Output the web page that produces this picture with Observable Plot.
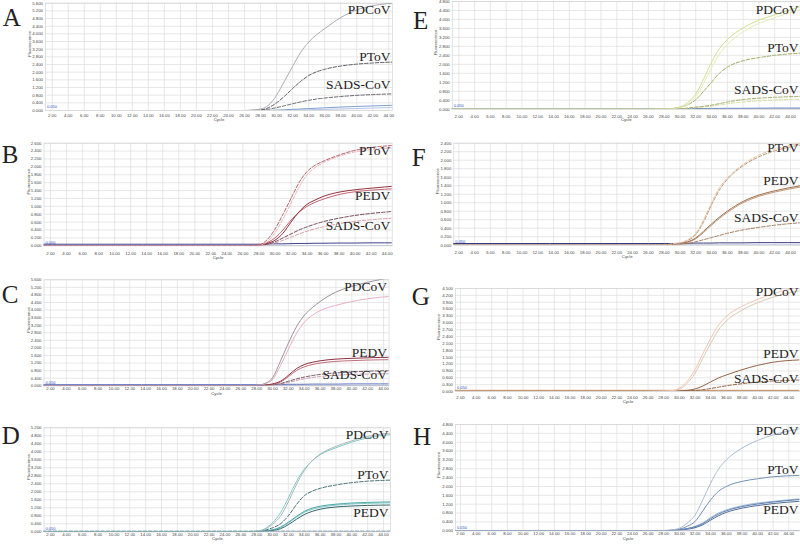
<!DOCTYPE html>
<html><head><meta charset="utf-8">
<script src="https://cdn.jsdelivr.net/npm/d3@7"></script>
<script src="https://cdn.jsdelivr.net/npm/@observablehq/plot@0.6"></script>
<style>
html,body{margin:0;padding:0;background:#fff;}
#fig{position:relative;width:800px;height:544px;overflow:hidden;background:#fff;}
.panel{position:absolute;}
</style></head>
<body><div id="fig"></div>
<script>
// ---------- data ----------
const cycles = [1, 26, 28, 29, 30, 31, 32, 33, 34, 35, 36, 38, 40, 42, 45.3];
const xTicks = [2,4,6,8,10,12,14,16,18,20,22,24,26,28,30,32,34,36,38,40,42,44];
const yTicks_A = [0,0.4,0.8,1.2,1.6,2.0,2.4,2.8,3.2,3.6,4.0,4.4,4.8,5.2,5.6];
const yTicks_B = [0,0.2,0.4,0.6,0.8,1.0,1.2,1.4,1.6,1.8,2.0,2.2,2.4,2.6];
const yTicks_C = [0,0.4,0.8,1.2,1.6,2.0,2.4,2.8,3.2,3.6,4.0,4.4,4.8,5.2,5.6];
const yTicks_D = [0,0.4,0.8,1.2,1.6,2.0,2.4,2.8,3.2,3.6,4.0,4.4,4.8,5.2];
const yTicks_E = [0,0.4,0.8,1.2,1.6,2.0,2.4,2.8,3.2,3.6,4.0,4.4,4.8];
const yTicks_F = [0,0.2,0.4,0.6,0.8,1.0,1.2,1.4,1.6,1.8,2.0,2.2,2.4];
const yTicks_G = [0,0.3,0.6,0.9,1.2,1.5,1.8,2.1,2.4,2.7,3.0,3.3,3.6,3.9,4.2,4.5];
const yTicks_H = [0,0.4,0.8,1.2,1.6,2.0,2.4,2.8,3.2,3.6,4.0,4.4,4.8];

const zeros = [0,0,0,0,0,0,0,0,0,0,0,0,0,0,0];

const A_PDCoV = [0,0,0.08,0.28,0.8,1.55,2.3,3.03,3.57,3.96,4.27,4.85,5.25,5.47,5.62];
const A_PToV  = [0,0,0.03,0.15,0.4,0.75,1.15,1.52,1.82,2.02,2.15,2.32,2.42,2.48,2.54];
const A_SADS  = [0,0,0.02,0.07,0.15,0.25,0.35,0.45,0.53,0.6,0.65,0.73,0.79,0.83,0.88];
const A_blue1 = [0,0,0,0.01,0.02,0.04,0.06,0.08,0.1,0.12,0.14,0.18,0.21,0.24,0.28];
const A_blue2 = [0,0,0,0,0,0.01,0.02,0.03,0.04,0.05,0.06,0.08,0.1,0.13,0.16];

const B_PToV1 = [0,0,0.02,0.15,0.42,0.8,1.2,1.6,1.88,2.04,2.14,2.3,2.42,2.49,2.55];
const B_PToV2 = [0,0,0.01,0.1,0.33,0.68,1.08,1.48,1.8,1.98,2.1,2.27,2.38,2.44,2.48];
const B_PEDV1 = [0,0,0.01,0.06,0.14,0.32,0.6,0.86,1.05,1.16,1.25,1.36,1.42,1.46,1.52];
const B_PEDV2 = [0,0,0.02,0.08,0.2,0.4,0.65,0.85,1.0,1.1,1.18,1.3,1.37,1.41,1.45];
const B_SADS1 = [0,0,0.01,0.04,0.1,0.2,0.3,0.4,0.48,0.55,0.61,0.7,0.77,0.82,0.88];
const B_SADS2 = [0,0,0.01,0.03,0.07,0.14,0.22,0.3,0.37,0.43,0.48,0.56,0.62,0.66,0.71];
const B_navy  = [0.04,0.04,0.04,0.045,0.05,0.05,0.055,0.06,0.06,0.065,0.065,0.07,0.07,0.075,0.075];

const C_PDCoV1 = [0,0,0.02,0.12,0.42,1.3,2.25,3.1,3.72,4.12,4.45,4.95,5.25,5.47,5.75];
const C_PDCoV2 = [0,0,0.02,0.1,0.33,1.06,1.93,2.75,3.35,3.72,3.97,4.25,4.45,4.6,4.74];
const C_PEDV1  = [0,0,0.01,0.03,0.1,0.24,0.55,0.9,1.12,1.24,1.32,1.41,1.45,1.48,1.51];
const C_PEDV2  = [0,0,0.01,0.03,0.08,0.2,0.48,0.8,1.0,1.12,1.2,1.29,1.33,1.36,1.38];
const C_SADS1  = [0,0,0.01,0.02,0.05,0.12,0.24,0.36,0.46,0.54,0.6,0.68,0.73,0.77,0.8];
const C_SADS2  = [0,0,0,0.02,0.04,0.09,0.18,0.28,0.37,0.44,0.49,0.56,0.6,0.62,0.64];
const C_blue   = [0.06,0.06,0.06,0.06,0.07,0.07,0.08,0.08,0.08,0.09,0.09,0.09,0.1,0.1,0.1];

const D_PDCoV1 = [0,0,0.02,0.12,0.37,0.78,1.5,2.35,3.05,3.55,3.88,4.27,4.55,4.77,4.95];
const D_PDCoV2 = [0,0,0.03,0.15,0.45,0.95,1.7,2.5,3.12,3.55,3.85,4.2,4.48,4.7,4.88];
const D_PToV   = [0,0,0.02,0.08,0.2,0.4,0.8,1.35,1.8,2.03,2.17,2.34,2.46,2.53,2.59];
const D_PEDV1  = [0,0,0.01,0.04,0.1,0.23,0.48,0.76,1.02,1.18,1.28,1.38,1.44,1.47,1.5];
const D_PEDV2  = [0,0,0.01,0.03,0.07,0.15,0.36,0.62,0.86,1.02,1.13,1.24,1.29,1.32,1.34];
const D_PEDV3  = [0,0,0.01,0.04,0.09,0.2,0.44,0.72,0.97,1.12,1.22,1.33,1.39,1.42,1.45];
const D_dash   = [0.03,0.03,0.03,0.03,0.03,0.03,0.03,0.03,0.03,0.03,0.03,0.03,0.03,0.03,0.03];

const E_PDCoV1 = [0,0,0.01,0.03,0.1,0.3,0.68,1.35,2.1,2.7,3.1,3.62,3.97,4.2,4.58];
const E_PDCoV2 = [0,0,0.01,0.02,0.07,0.22,0.55,1.15,1.85,2.45,2.88,3.45,3.82,4.08,4.45];
const E_PToV   = [0,0,0.01,0.03,0.08,0.2,0.42,0.8,1.2,1.6,1.87,2.16,2.3,2.4,2.5];
const E_SADS1  = [0,0,0,0.01,0.02,0.05,0.09,0.13,0.18,0.25,0.32,0.43,0.49,0.53,0.57];
const E_SADS2  = [0,0,0,0.01,0.02,0.04,0.07,0.1,0.14,0.19,0.24,0.32,0.37,0.41,0.45];
const E_blue   = [0.02,0.02,0.02,0.02,0.025,0.025,0.03,0.03,0.035,0.035,0.04,0.04,0.045,0.05,0.05];

const F_PToV1 = [0,0,0.01,0.03,0.06,0.13,0.28,0.6,1.0,1.35,1.58,1.9,2.12,2.26,2.4];
const F_PToV2 = [0,0,0.01,0.02,0.05,0.11,0.25,0.55,0.95,1.3,1.55,1.87,2.08,2.22,2.36];
const F_PEDV1 = [0,0,0.01,0.02,0.04,0.08,0.17,0.33,0.5,0.66,0.8,1.03,1.18,1.28,1.4];
const F_PEDV2 = [0,0,0.01,0.02,0.04,0.07,0.15,0.3,0.47,0.63,0.77,1.0,1.15,1.25,1.37];
const F_SADS  = [0,0,0,0.01,0.02,0.04,0.08,0.13,0.18,0.23,0.28,0.36,0.42,0.47,0.53];
const F_navy  = [0.04,0.04,0.04,0.04,0.045,0.045,0.05,0.05,0.05,0.055,0.055,0.055,0.06,0.06,0.06];

const G_PDCoV1 = [0,0,0.01,0.04,0.15,0.45,0.95,1.65,2.32,2.9,3.28,3.72,4.02,4.27,4.55];
const G_PDCoV2 = [0,0,0.01,0.03,0.1,0.35,0.8,1.45,2.1,2.68,3.08,3.55,3.88,4.12,4.4];
const G_PEDV   = [0,0,0,0.01,0.02,0.05,0.11,0.24,0.42,0.59,0.72,0.95,1.14,1.28,1.38];
const G_SADS   = [0,0,0,0,0.01,0.02,0.04,0.08,0.13,0.19,0.25,0.34,0.41,0.46,0.5];
const G_base   = [0.05,0.05,0.05,0.05,0.05,0.05,0.05,0.05,0.05,0.05,0.05,0.05,0.05,0.05,0.05];

const H_PDCoV = [0,0,0.01,0.04,0.12,0.35,0.7,1.4,2.15,2.78,3.2,3.73,4.08,4.33,4.6];
const H_PToV  = [0,0,0.01,0.03,0.08,0.2,0.42,0.9,1.4,1.78,2.0,2.23,2.35,2.44,2.5];
const H_PEDV1 = [0,0,0,0.02,0.05,0.1,0.18,0.32,0.55,0.75,0.9,1.09,1.21,1.3,1.41];
const H_PEDV2 = [0,0,0,0.02,0.05,0.1,0.2,0.36,0.6,0.8,0.94,1.13,1.25,1.33,1.44];
const H_PEDV3 = [0,0,0,0.01,0.03,0.07,0.14,0.27,0.48,0.68,0.83,1.02,1.14,1.23,1.33];

// ---------- panels (layout + styling) ----------
const S = "solid", Dd = "3.5,1.8";
const panels = [
 {id:"A", box:[0,0], plotL:45, plotR:392, p2:51.7, p44:388.3, y0:110, yTop:2.7, tickDy:6.7, cycleDy:10.7, fluorX:29.3, letter:[2.7,25.7], yMax:5.6, yTicks:yTicks_A,
  series:[[zeros,"#3a3a8a",S],[A_blue2,"#b4c6e6",S],[A_blue1,"#7f9fd0",S],[A_SADS,"#6a6a72",Dd],[A_PToV,"#5a5a62",Dd],[A_PDCoV,"#ababb3",S]],
  labels:[["PDCoV",5.27],["PToV",2.83],["SADS-CoV",1.36]]},
 {id:"B", box:[0,136], plotL:43.5, plotR:391.7, p2:50, p44:386.7, y0:245.3, yTop:142.7, tickDy:9, cycleDy:13, fluorX:28.3, letter:[1.7,163], yMax:2.6, yTicks:yTicks_B,
  series:[[zeros,"#5a78c0",S],[B_navy,"#40408a",S],[B_SADS2,"#d8a0aa",Dd],[B_SADS1,"#74485a",Dd],[B_PEDV2,"#c46674",S],[B_PEDV1,"#94343f",S],[B_PToV2,"#e8b4ba",Dd],[B_PToV1,"#b4606c",Dd]],
  labels:[["PToV",2.40],["PEDV",1.27],["SADS-CoV",0.51]]},
 {id:"C", box:[0,272], plotL:43.5, plotR:388.5, p2:50, p44:383, y0:385.3, yTop:279.3, tickDy:4, cycleDy:9.4, fluorX:28.3, letter:[1.7,302.5], yMax:5.6, yTicks:yTicks_C,
  series:[[zeros,"#3a3a8a",S],[C_blue,"#5a70c0",S],[C_SADS2,"#cc9eaa",Dd],[C_SADS1,"#745866",Dd],[C_PEDV2,"#c06e7a",S],[C_PEDV1,"#8e3040",S],[C_PDCoV2,"#e8b0be",S],[C_PDCoV1,"#9e92a0",S]],
  labels:[["PDCoV",5.25],["PEDV",1.76],["SADS-CoV",0.61]]},
 {id:"D", box:[0,408], plotL:43.5, plotR:390, p2:50, p44:383, y0:531.3, yTop:427.3, tickDy:4.4, cycleDy:8.4, fluorX:28.3, letter:[1.7,444], yMax:5.2, yTicks:yTicks_D,
  series:[[zeros,"#3a3a8a",S],[D_dash,"#4a8080",Dd],[D_PEDV3,"#88c8c8",S],[D_PEDV2,"#34646a",S],[D_PEDV1,"#4aa8a8",S],[D_PToV,"#44706e",Dd],[D_PDCoV2,"#80c8c8",S],[D_PDCoV1,"#adb8b8",S]],
  labels:[["PDCoV",4.87],["PToV",2.87],["PEDV",0.97]]},
 {id:"E", box:[400,0], plotL:451.7, plotR:800, p2:458.3, p44:790, y0:108.7, yTop:1, tickDy:8.6, cycleDy:12, fluorX:435, letter:[413,29], yMax:4.8, yTicks:yTicks_E,
  series:[[zeros,"#3a3a8a",S],[E_blue,"#6080c0",S],[E_SADS2,"#d4dea0",Dd],[E_SADS1,"#a4ac68",Dd],[E_PToV,"#9cab60",Dd],[E_PDCoV2,"#e4ecb8",S],[E_PDCoV1,"#d2de94",S]],
  labels:[["PDCoV",4.44],["PToV",2.73],["SADS-CoV",0.88]]},
 {id:"F", box:[400,136], plotL:453.3, plotR:800, p2:458.3, p44:790, y0:244.7, yTop:142.7, tickDy:8.6, cycleDy:13, fluorX:437.3, letter:[411.7,166], yMax:2.4, yTicks:yTicks_F,
  series:[[zeros,"#5a78c0",S],[F_navy,"#3a3a80",S],[F_SADS,"#a47c5e",Dd],[F_PEDV2,"#c49878",S],[F_PEDV1,"#9c7050",S],[F_PToV2,"#b49878",Dd],[F_PToV1,"#e8c4a6",Dd]],
  labels:[["PToV",2.30],["PEDV",1.52],["SADS-CoV",0.65]]},
 {id:"G", box:[400,272], plotL:455, plotR:800, p2:460, p44:788.3, y0:391, yTop:288, tickDy:7, cycleDy:11, fluorX:438.3, letter:[411.7,305], yMax:4.5, yTicks:yTicks_G,
  series:[[zeros,"#3a3a8a",S],[G_base,"#c08654",S],[G_SADS,"#906446",Dd],[G_PEDV,"#906446",S],[G_PDCoV2,"#dec8b2",S],[G_PDCoV1,"#f0c8b8",S]],
  labels:[["PDCoV",4.36],["PEDV",1.66],["SADS-CoV",0.57]]},
 {id:"H", box:[400,408], plotL:455, plotR:800, p2:460, p44:788.3, y0:530.3, yTop:424, tickDy:4.4, cycleDy:8.7, fluorX:438.3, letter:[413,445], yMax:4.8, yTicks:yTicks_H,
  series:[[zeros,"#3a3a8a",S],[H_PEDV3,"#4e6e96",S],[H_PEDV2,"#9cb6d8",S],[H_PEDV1,"#5e7eac",S],[H_PToV,"#7290b6",S],[H_PDCoV,"#adbcd2",S]],
  labels:[["PDCoV",4.50],["PToV",2.77],["PEDV",0.96]]}
];

const fig = document.getElementById("fig");
const sans = "Liberation Sans, Arial, sans-serif";
const serif = "Liberation Serif, Times New Roman, serif";
const fx = d3.format(".2f"), fy = d3.format(".3f");

for (const p of panels) {
  const [bx, by] = p.box, W = 400, H = 136;
  const k = (p.p44 - p.p2) / 42;
  const xmin = 2 - (p.p2 - p.plotL) / k, xmax = 2 + (p.plotR - p.p2) / k;
  const marks = [
    Plot.ruleX(xTicks, {x: d => d, stroke: "#dedede", strokeWidth: 0.7}),
    Plot.ruleY(p.yTicks, {y: d => d, stroke: "#dedede", strokeWidth: 0.7}),
    Plot.frame({stroke: "#d4d4d4", strokeWidth: 0.7}),
    Plot.text(xTicks, {x: d => d, frameAnchor: "bottom", dy: p.tickDy, text: d => fx(d), fontSize: 4.3, fontFamily: sans, fill: "#444"}),
    Plot.text(p.yTicks, {y: d => d, frameAnchor: "left", dx: -2.5, textAnchor: "end", text: d => fy(d), fontSize: 4.3, fontFamily: sans, fill: "#444"}),
    Plot.text(["Cycle"], {frameAnchor: "bottom", dy: p.cycleDy, fontSize: 4.3, fontFamily: sans, fill: "#444"}),
    Plot.text(["Fluorescence"], {frameAnchor: "left", dx: p.fluorX - p.plotL, rotate: -90, fontSize: 4.3, fontFamily: sans, fill: "#444"}),
    Plot.text(["0.050"], {frameAnchor: "bottom-left", dx: 1.5, dy: -2.2, textAnchor: "start", fontSize: 4, fontFamily: sans, fill: "#3050c0"})
  ];
  for (const [vals, color, dash] of p.series) {
    const data = cycles.map((c, i) => ({c, v: vals[i]}));
    marks.push(Plot.line(data, {x: "c", y: "v", stroke: color, strokeWidth: 1, strokeDasharray: dash === S ? null : dash, curve: "monotone-x", clip: true}));
  }
  marks.push(Plot.text(p.labels, {y: d => d[1], text: d => d[0], frameAnchor: "right", dx: -2, textAnchor: "end", fontFamily: serif, fontSize: 13.5, fill: "#222", ariaLabel: "curvelabel"}));

  const chart = Plot.plot({
    width: W, height: H,
    marginLeft: p.plotL - bx, marginRight: bx + W - p.plotR,
    marginTop: p.yTop - by, marginBottom: by + H - p.y0,
    x: {domain: [xmin, xmax], axis: null},
    y: {domain: [0, p.yMax], axis: null},
    style: {background: "transparent", overflow: "visible"},
    marks
  });
  const div = document.createElement("div");
  div.className = "panel";
  div.style.left = bx + "px"; div.style.top = by + "px";
  div.appendChild(chart);
  fig.appendChild(div);
  d3.select(chart).selectAll('g[aria-label="curvelabel"] text').each(function() {
    const tr = this.getAttribute("transform") || "";
    const x = +(this.getAttribute("x") || 0), y = +(this.getAttribute("y") || 0);
    this.removeAttribute("x"); this.removeAttribute("y");
    this.setAttribute("transform", `${tr} translate(${x},${y}) scale(1,1.2)`);
  });
}

// panel letters
const ov = d3.select(fig).append("svg").attr("width", 800).attr("height", 544)
  .style("position", "absolute").style("left", "0px").style("top", "0px").style("pointer-events", "none");
for (const p of panels) {
  ov.append("text").attr("x", p.letter[0]).attr("y", p.letter[1])
    .attr("font-family", serif).attr("font-size", 25).attr("fill", "#222").text(p.id);
}
</script></body></html>
